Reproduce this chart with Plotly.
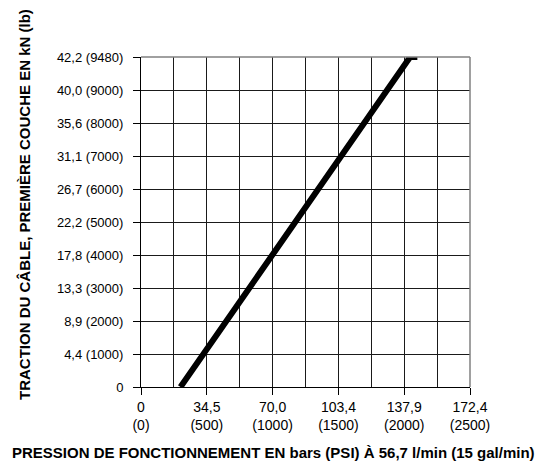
import numpy as np
import plotly.graph_objects as go

# Axis ticks (x: PSI with bar equivalents; y: lb with kN equivalents)
x_tick_psi = [0, 500, 1000, 1500, 2000, 2500]
x_tick_bar = ["0", "34,5", "70,0", "103,4", "137,9", "172,4"]
x_minor_psi = [250, 750, 1250, 1750, 2250]
y_tick_lb = [0, 1000, 2000, 3000, 4000, 5000, 6000, 7000, 8000, 9000, 9480]
y_tick_kn = ["0", "4,4", "8,9", "13,3", "17,8", "22,2", "26,7", "31,1", "35,6", "40,0", "42,2"]

# Curve: line pull vs. operating pressure
pressure_psi = [300, 2045, 2100]
pull_lb = [0, 9480, 9480]

x_title = "PRESSION DE FONCTIONNEMENT EN bars (PSI) À 56,7 l/min (15 gal/min)"
y_title = "TRACTION DU CÂBLE, PREMIÈRE COUCHE EN kN (lb)"

# The chart's y grid is uniform per labelled tick (top row labelled 9480)
y_idx = list(range(len(y_tick_lb)))
pull_pos = np.interp(pull_lb, y_tick_lb, y_idx)

x_text = [f"{b}<br>({p})" for b, p in zip(x_tick_bar, x_tick_psi)]
y_text = [k if lb == 0 else f"{k} ({lb})" for k, lb in zip(y_tick_kn, y_tick_lb)]

FONT = "Liberation Sans, Arial, sans-serif"
L, R, T, B = 141, 77, 57, 74
W, H = 547, 461
PW, PH = W - L - R, H - T - B

fig = go.Figure()
fig.add_trace(go.Scatter(
    x=pressure_psi, y=pull_pos, mode="lines",
    line=dict(color="black", width=6),
    hoverinfo="skip", showlegend=False,
))

fig.update_layout(
    width=W, height=H,
    margin=dict(l=L, r=R, t=T, b=B),
    paper_bgcolor="white", plot_bgcolor="white",
    font=dict(family=FONT, size=13, color="black"),
    showlegend=False,
)

fig.update_xaxes(
    range=[0, 2500], tickmode="array", tickvals=x_tick_psi, ticktext=x_text,
    ticks="outside", ticklen=7, tickcolor="black", tickwidth=1,
    showline=True, linecolor="black", linewidth=1,
    showgrid=True, gridcolor="#1a1a1a", gridwidth=1,
    minor=dict(tickvals=x_minor_psi, showgrid=True, gridcolor="#1a1a1a", gridwidth=1, ticks=""),
    tickfont=dict(size=14, family=FONT, color="black"),
    zeroline=False, fixedrange=True,
)
fig.update_yaxes(
    range=[0, 10], tickmode="array", tickvals=y_idx, ticktext=y_text,
    ticks="outside", ticklen=7, tickcolor="black", tickwidth=1,
    showline=True, linecolor="black", linewidth=1,
    showgrid=True, gridcolor="#1a1a1a", gridwidth=1,
    tickfont=dict(size=13, family=FONT, color="black"),
    ticklabelstandoff=7,
    zeroline=False, fixedrange=True,
)

# Axis titles as annotations for exact placement
fig.add_annotation(text=f"<b>{x_title}</b>", xref="paper", yref="paper",
                   x=(273.5 - L) / PW, y=(H - B - 452) / PH, xanchor="center", yanchor="middle",
                   showarrow=False, font=dict(size=15, family=FONT, color="black"))
fig.add_annotation(text=f"<b>{y_title}</b>", xref="paper", yref="paper",
                   x=(24 - L) / PW, y=(H - B - 205) / PH, xanchor="center", yanchor="middle",
                   textangle=-90, showarrow=False, font=dict(size=15, family=FONT, color="black"))

# Grey top and right frame lines
fig.add_shape(type="line", xref="x domain", yref="y domain", x0=0, x1=1, y0=1, y1=1,
              line=dict(color="#808080", width=1.5))
fig.add_shape(type="line", xref="x domain", yref="y domain", x0=1, x1=1, y0=0, y1=1,
              line=dict(color="#808080", width=1.5))

fig.write_html("out.html", config={"displayModeBar": False},
               post_script="document.body.style.margin='0px';")
